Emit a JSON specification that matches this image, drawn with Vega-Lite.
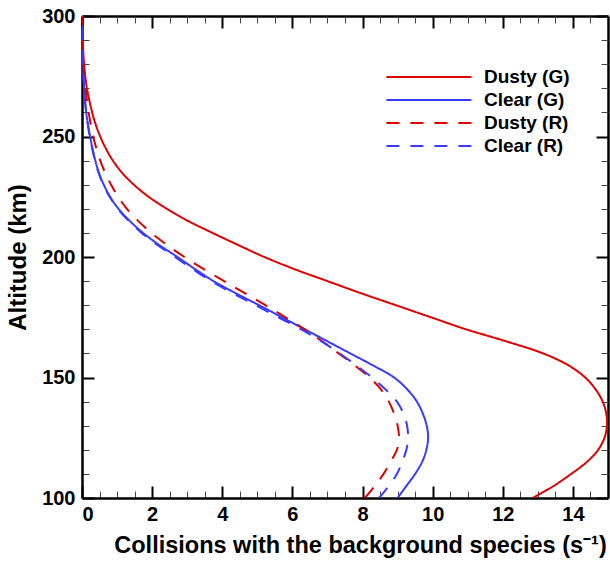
{
  "$schema": "https://vega.github.io/schema/vega-lite/v6.json",
  "autosize": {"type": "none"},
  "padding": {"left": 82, "top": 16, "right": 2, "bottom": 63},
  "width": 526,
  "height": 482,
  "config": {
    "view": {"stroke": null},
    "font": "Liberation Sans",
    "axis": {"grid": false, "labelFont": "Liberation Sans", "labelFontWeight": "bold", "labelFontSize": 20, "labelColor": "#000", "titleFont": "Liberation Sans", "titleFontWeight": "bold", "titleColor": "#000", "domainColor": "#000", "tickColor": "#000"}
  },
  "data": {"values": [
    {"s": "Dusty (G)", "alt": 100, "v": 12.85},
    {"s": "Dusty (G)", "alt": 105, "v": 13.45},
    {"s": "Dusty (G)", "alt": 110, "v": 13.95},
    {"s": "Dusty (G)", "alt": 115, "v": 14.4},
    {"s": "Dusty (G)", "alt": 120, "v": 14.72},
    {"s": "Dusty (G)", "alt": 125, "v": 14.9},
    {"s": "Dusty (G)", "alt": 130, "v": 14.97},
    {"s": "Dusty (G)", "alt": 135, "v": 14.95},
    {"s": "Dusty (G)", "alt": 140, "v": 14.85},
    {"s": "Dusty (G)", "alt": 145, "v": 14.65},
    {"s": "Dusty (G)", "alt": 150, "v": 14.35},
    {"s": "Dusty (G)", "alt": 155, "v": 13.88},
    {"s": "Dusty (G)", "alt": 160, "v": 13.15},
    {"s": "Dusty (G)", "alt": 165, "v": 12.1},
    {"s": "Dusty (G)", "alt": 170, "v": 10.95},
    {"s": "Dusty (G)", "alt": 175, "v": 9.95},
    {"s": "Dusty (G)", "alt": 180, "v": 8.95},
    {"s": "Dusty (G)", "alt": 185, "v": 7.95},
    {"s": "Dusty (G)", "alt": 190, "v": 7.0},
    {"s": "Dusty (G)", "alt": 195, "v": 6.05},
    {"s": "Dusty (G)", "alt": 200, "v": 5.2},
    {"s": "Dusty (G)", "alt": 205, "v": 4.45},
    {"s": "Dusty (G)", "alt": 210, "v": 3.72},
    {"s": "Dusty (G)", "alt": 215, "v": 3.02},
    {"s": "Dusty (G)", "alt": 220, "v": 2.42},
    {"s": "Dusty (G)", "alt": 225, "v": 1.9},
    {"s": "Dusty (G)", "alt": 230, "v": 1.48},
    {"s": "Dusty (G)", "alt": 235, "v": 1.14},
    {"s": "Dusty (G)", "alt": 240, "v": 0.88},
    {"s": "Dusty (G)", "alt": 245, "v": 0.68},
    {"s": "Dusty (G)", "alt": 250, "v": 0.52},
    {"s": "Dusty (G)", "alt": 255, "v": 0.39},
    {"s": "Dusty (G)", "alt": 260, "v": 0.29},
    {"s": "Dusty (G)", "alt": 270, "v": 0.14},
    {"s": "Dusty (G)", "alt": 280, "v": 0.06},
    {"s": "Dusty (G)", "alt": 290, "v": 0.02},
    {"s": "Dusty (G)", "alt": 300, "v": 0.0},
    {"s": "Clear (G)", "alt": 100, "v": 9.0},
    {"s": "Clear (G)", "alt": 105, "v": 9.25},
    {"s": "Clear (G)", "alt": 110, "v": 9.5},
    {"s": "Clear (G)", "alt": 115, "v": 9.7},
    {"s": "Clear (G)", "alt": 120, "v": 9.82},
    {"s": "Clear (G)", "alt": 125, "v": 9.87},
    {"s": "Clear (G)", "alt": 130, "v": 9.83},
    {"s": "Clear (G)", "alt": 135, "v": 9.72},
    {"s": "Clear (G)", "alt": 140, "v": 9.55},
    {"s": "Clear (G)", "alt": 145, "v": 9.28},
    {"s": "Clear (G)", "alt": 150, "v": 8.9},
    {"s": "Clear (G)", "alt": 155, "v": 8.3},
    {"s": "Clear (G)", "alt": 160, "v": 7.65},
    {"s": "Clear (G)", "alt": 165, "v": 7.0},
    {"s": "Clear (G)", "alt": 170, "v": 6.35},
    {"s": "Clear (G)", "alt": 175, "v": 5.7},
    {"s": "Clear (G)", "alt": 180, "v": 5.05},
    {"s": "Clear (G)", "alt": 185, "v": 4.38},
    {"s": "Clear (G)", "alt": 190, "v": 3.75},
    {"s": "Clear (G)", "alt": 195, "v": 3.22},
    {"s": "Clear (G)", "alt": 200, "v": 2.72},
    {"s": "Clear (G)", "alt": 205, "v": 2.2},
    {"s": "Clear (G)", "alt": 210, "v": 1.74},
    {"s": "Clear (G)", "alt": 215, "v": 1.36},
    {"s": "Clear (G)", "alt": 220, "v": 1.04},
    {"s": "Clear (G)", "alt": 225, "v": 0.8},
    {"s": "Clear (G)", "alt": 230, "v": 0.62},
    {"s": "Clear (G)", "alt": 235, "v": 0.48},
    {"s": "Clear (G)", "alt": 240, "v": 0.38},
    {"s": "Clear (G)", "alt": 245, "v": 0.3},
    {"s": "Clear (G)", "alt": 250, "v": 0.23},
    {"s": "Clear (G)", "alt": 255, "v": 0.17},
    {"s": "Clear (G)", "alt": 260, "v": 0.12},
    {"s": "Clear (G)", "alt": 270, "v": 0.06},
    {"s": "Clear (G)", "alt": 280, "v": 0.03},
    {"s": "Clear (G)", "alt": 290, "v": 0.01},
    {"s": "Clear (G)", "alt": 300, "v": 0.0},
    {"s": "Dusty (R)", "alt": 100, "v": 8.07},
    {"s": "Dusty (R)", "alt": 105, "v": 8.35},
    {"s": "Dusty (R)", "alt": 110, "v": 8.6},
    {"s": "Dusty (R)", "alt": 115, "v": 8.8},
    {"s": "Dusty (R)", "alt": 120, "v": 8.98},
    {"s": "Dusty (R)", "alt": 125, "v": 9.04},
    {"s": "Dusty (R)", "alt": 130, "v": 9.0},
    {"s": "Dusty (R)", "alt": 135, "v": 8.9},
    {"s": "Dusty (R)", "alt": 140, "v": 8.75},
    {"s": "Dusty (R)", "alt": 145, "v": 8.53},
    {"s": "Dusty (R)", "alt": 150, "v": 8.2},
    {"s": "Dusty (R)", "alt": 155, "v": 7.78},
    {"s": "Dusty (R)", "alt": 160, "v": 7.32},
    {"s": "Dusty (R)", "alt": 165, "v": 6.85},
    {"s": "Dusty (R)", "alt": 170, "v": 6.35},
    {"s": "Dusty (R)", "alt": 175, "v": 5.8},
    {"s": "Dusty (R)", "alt": 180, "v": 5.23},
    {"s": "Dusty (R)", "alt": 185, "v": 4.64},
    {"s": "Dusty (R)", "alt": 190, "v": 4.05},
    {"s": "Dusty (R)", "alt": 195, "v": 3.47},
    {"s": "Dusty (R)", "alt": 200, "v": 2.92},
    {"s": "Dusty (R)", "alt": 205, "v": 2.42},
    {"s": "Dusty (R)", "alt": 210, "v": 1.98},
    {"s": "Dusty (R)", "alt": 215, "v": 1.6},
    {"s": "Dusty (R)", "alt": 220, "v": 1.28},
    {"s": "Dusty (R)", "alt": 225, "v": 1.03},
    {"s": "Dusty (R)", "alt": 230, "v": 0.83},
    {"s": "Dusty (R)", "alt": 235, "v": 0.66},
    {"s": "Dusty (R)", "alt": 240, "v": 0.52},
    {"s": "Dusty (R)", "alt": 245, "v": 0.41},
    {"s": "Dusty (R)", "alt": 250, "v": 0.32},
    {"s": "Dusty (R)", "alt": 260, "v": 0.19},
    {"s": "Dusty (R)", "alt": 270, "v": 0.1},
    {"s": "Dusty (R)", "alt": 280, "v": 0.04},
    {"s": "Dusty (R)", "alt": 290, "v": 0.01},
    {"s": "Dusty (R)", "alt": 300, "v": 0.0},
    {"s": "Clear (R)", "alt": 100, "v": 8.47},
    {"s": "Clear (R)", "alt": 105, "v": 8.75},
    {"s": "Clear (R)", "alt": 110, "v": 8.98},
    {"s": "Clear (R)", "alt": 115, "v": 9.13},
    {"s": "Clear (R)", "alt": 120, "v": 9.25},
    {"s": "Clear (R)", "alt": 125, "v": 9.3},
    {"s": "Clear (R)", "alt": 130, "v": 9.27},
    {"s": "Clear (R)", "alt": 135, "v": 9.17},
    {"s": "Clear (R)", "alt": 140, "v": 8.98},
    {"s": "Clear (R)", "alt": 145, "v": 8.66},
    {"s": "Clear (R)", "alt": 150, "v": 8.27},
    {"s": "Clear (R)", "alt": 155, "v": 7.82},
    {"s": "Clear (R)", "alt": 160, "v": 7.35},
    {"s": "Clear (R)", "alt": 165, "v": 6.83},
    {"s": "Clear (R)", "alt": 170, "v": 6.25},
    {"s": "Clear (R)", "alt": 175, "v": 5.6},
    {"s": "Clear (R)", "alt": 180, "v": 4.95},
    {"s": "Clear (R)", "alt": 185, "v": 4.3},
    {"s": "Clear (R)", "alt": 190, "v": 3.68},
    {"s": "Clear (R)", "alt": 195, "v": 3.15},
    {"s": "Clear (R)", "alt": 200, "v": 2.65},
    {"s": "Clear (R)", "alt": 205, "v": 2.15},
    {"s": "Clear (R)", "alt": 210, "v": 1.7},
    {"s": "Clear (R)", "alt": 215, "v": 1.33},
    {"s": "Clear (R)", "alt": 220, "v": 1.02},
    {"s": "Clear (R)", "alt": 225, "v": 0.79},
    {"s": "Clear (R)", "alt": 230, "v": 0.61},
    {"s": "Clear (R)", "alt": 235, "v": 0.47},
    {"s": "Clear (R)", "alt": 240, "v": 0.37},
    {"s": "Clear (R)", "alt": 245, "v": 0.29},
    {"s": "Clear (R)", "alt": 250, "v": 0.22},
    {"s": "Clear (R)", "alt": 260, "v": 0.12},
    {"s": "Clear (R)", "alt": 270, "v": 0.06},
    {"s": "Clear (R)", "alt": 280, "v": 0.03},
    {"s": "Clear (R)", "alt": 290, "v": 0.01},
    {"s": "Clear (R)", "alt": 300, "v": 0.0}
  ]},
  "resolve": {"axis": {"x": "independent", "y": "independent"}},
  "layer": [
    {
      "mark": {"type": "point", "opacity": 0},
      "encoding": {
        "x": {"field": "v", "type": "quantitative", "scale": {"domain": [0, 15], "nice": false, "zero": false},
          "axis": {"orient": "bottom", "values": [0, 2, 4, 6, 8, 10, 12, 14], "ticks": false, "domain": false, "labels": false, "title": null}},
        "y": {"field": "alt", "type": "quantitative", "scale": {"domain": [100, 300], "nice": false, "zero": false},
          "axis": {"orient": "left", "values": [100, 150, 200, 250, 300], "ticks": true, "tickSize": -12, "tickWidth": 2, "domain": false, "labels": false, "title": null}}
      }
    },
    {
      "mark": {"type": "point", "opacity": 0},
      "encoding": {
        "x": {"field": "v", "type": "quantitative",
          "axis": {"orient": "bottom", "values": [0, 2, 4, 6, 8, 10, 12, 14], "tickSize": -12, "tickWidth": 2, "domain": false, "labels": false, "title": null}},
        "y": {"field": "alt", "type": "quantitative", "axis": null}
      }
    },
    {
      "mark": {"type": "point", "opacity": 0},
      "encoding": {
        "x": {"field": "v", "type": "quantitative",
          "axis": {"orient": "bottom", "values": [0.5, 1, 1.5, 2.5, 3, 3.5, 4.5, 5, 5.5, 6.5, 7, 7.5, 8.5, 9, 9.5, 10.5, 11, 11.5, 12.5, 13, 13.5, 14.5], "tickSize": -7, "tickWidth": 1, "tickColor": "#444", "domain": false, "labels": false, "title": null}},
        "y": {"field": "alt", "type": "quantitative",
          "axis": {"orient": "left", "values": [110, 120, 130, 140, 160, 170, 180, 190, 210, 220, 230, 240, 260, 270, 280, 290], "tickSize": -7, "tickWidth": 1, "tickColor": "#444", "domain": false, "labels": false, "title": null}}
      }
    },
    {
      "mark": {"type": "point", "opacity": 0},
      "encoding": {
        "x": {"field": "v", "type": "quantitative",
          "axis": {"orient": "top", "values": [0, 2, 4, 6, 8, 10, 12, 14], "tickSize": -12, "tickWidth": 2, "domain": true, "domainWidth": 2.5, "labels": false, "title": null}},
        "y": {"field": "alt", "type": "quantitative",
          "axis": {"orient": "right", "values": [100, 150, 200, 250, 300], "tickSize": -12, "tickWidth": 2, "domain": true, "domainWidth": 2.5, "labels": false, "title": null}}
      }
    },
    {
      "mark": {"type": "point", "opacity": 0},
      "encoding": {
        "x": {"field": "v", "type": "quantitative",
          "axis": {"orient": "top", "values": [0.5, 1, 1.5, 2.5, 3, 3.5, 4.5, 5, 5.5, 6.5, 7, 7.5, 8.5, 9, 9.5, 10.5, 11, 11.5, 12.5, 13, 13.5, 14.5], "tickSize": -7, "tickWidth": 1, "tickColor": "#444", "domain": false, "labels": false, "title": null}},
        "y": {"field": "alt", "type": "quantitative",
          "axis": {"orient": "right", "values": [110, 120, 130, 140, 160, 170, 180, 190, 210, 220, 230, 240, 260, 270, 280, 290], "tickSize": -7, "tickWidth": 1, "tickColor": "#444", "domain": false, "labels": false, "title": null}}
      }
    },
    {
      "mark": {"type": "line", "strokeWidth": 2, "clip": true, "interpolate": "catmull-rom"},
      "encoding": {
        "x": {"field": "v", "type": "quantitative",
          "axis": {"orient": "bottom", "values": [0, 2, 4, 6, 8, 10, 12, 14], "ticks": false, "domain": true, "domainWidth": 2.5, "labelPadding": 6, "title": "Collisions with the background species (s⁻¹)", "titleFontSize": 23.5, "titlePadding": 9, "titleX": 278}},
        "y": {"field": "alt", "type": "quantitative",
          "axis": {"orient": "left", "values": [100, 150, 200, 250, 300], "ticks": false, "domain": true, "domainWidth": 2.5, "labelPadding": 7, "title": "Altitude (km)", "titleFontSize": 24, "titlePadding": 11}},
        "order": {"field": "alt", "type": "quantitative"},
        "color": {"field": "s", "type": "nominal",
          "scale": {"domain": ["Dusty (G)", "Clear (G)", "Dusty (R)", "Clear (R)"], "range": ["#dd0000", "#3a3aff", "#dd0000", "#3a3aff"]},
          "legend": {"title": null, "orient": "none", "legendX": 303, "legendY": 49, "symbolType": "M-1,0H7", "symbolSize": 451.6, "symbolStrokeWidth": 2, "labelFont": "Liberation Sans", "labelFontWeight": "bold", "labelFontSize": 19, "labelColor": "#000", "labelOffset": 75, "rowPadding": 1}},
        "strokeDash": {"field": "s", "type": "nominal",
          "scale": {"domain": ["Dusty (G)", "Clear (G)", "Dusty (R)", "Clear (R)"], "range": [[1, 0], [1, 0], [13, 11], [13, 11]]},
          "legend": {"title": null, "orient": "none", "legendX": 303, "legendY": 49, "symbolType": "M-1,0H7", "symbolSize": 451.6, "symbolStrokeWidth": 2, "labelFont": "Liberation Sans", "labelFontWeight": "bold", "labelFontSize": 19, "labelColor": "#000", "labelOffset": 75, "rowPadding": 1}}
      }
    }
  ]
}
